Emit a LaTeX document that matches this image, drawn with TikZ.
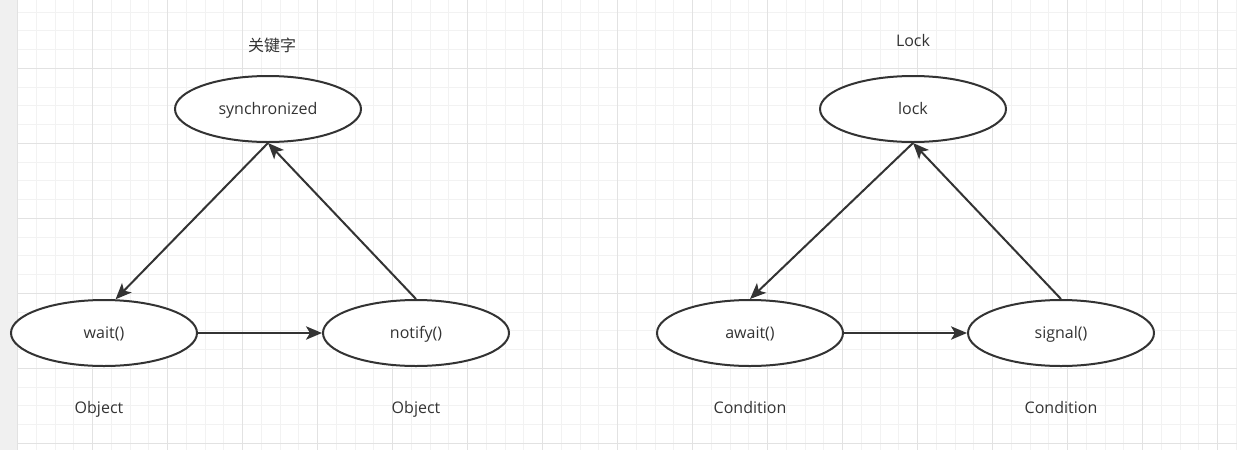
\documentclass[tikz,border=0pt]{standalone}
\usepackage{fontspec}
\setmainfont{Open Sans}
\newfontfamily\cjkfont{Noto Sans CJK SC}
\usetikzlibrary{shapes.geometric, arrows.meta}
\definecolor{strokecolor}{RGB}{51,51,51}
\definecolor{minorgrid}{RGB}{242,242,242}
\definecolor{majorgrid}{RGB}{226,226,226}
\definecolor{stripcolor}{RGB}{240,240,240}

\begin{document}
\begin{tikzpicture}[
    x={(0.75pt,0)}, y={(0,-0.75pt)},
    state/.style={draw=strokecolor, ellipse, line width=1.5pt, fill=white, minimum width=139.5pt, minimum height=49.5pt, inner sep=0pt, text height=10.5pt, text depth=2pt, font=\fontsize{12pt}{14pt}\selectfont, text=strokecolor},
    caption/.style={font=\fontsize{12pt}{14pt}\selectfont, text=strokecolor, inner sep=0pt, text height=10.5pt, text depth=2pt},
    arrow/.style={-{Stealth[length=12pt, width=10pt, inset=3pt]}, line width=1.5pt, strokecolor}
]
    \useasboundingbox (0,0) rectangle (1237,450);

    % Grid
    \fill[white] (0,0) rectangle (1237,450);
    \fill[stripcolor] (0,0) rectangle (17.5,450);
    \foreach \gx in {17.7,36.45,...,1237}
        \draw[minorgrid, line width=0.75pt] (\gx,0) -- (\gx,450);
    \foreach \gy in {12.05,30.8,...,450}
        \draw[minorgrid, line width=0.75pt] (17.7,\gy) -- (1237,\gy);
    \foreach \gx in {17.7,92.7,...,1237}
        \draw[majorgrid, line width=0.75pt] (\gx,0) -- (\gx,450);
    \foreach \gy in {68.3,143.3,...,450}
        \draw[majorgrid, line width=0.75pt] (17.7,\gy) -- (1237,\gy);

    % States, left
    \node[state] (sync) at (268,109) {synchronized};
    \node[state] (wait) at (104,333) {wait()};
    \node[state] (notify) at (416,333) {notify()};

    % States, right
    \node[state] (lock) at (913,109) {lock};
    \node[state] (await) at (750,333) {await()};
    \node[state] (signal) at (1061,333) {signal()};

    % Captions
    \node[caption, font=\cjkfont\fontsize{12pt}{14pt}\selectfont] (keyword) at (272,46) {关键字};
    \node[caption] (locklabel) at (913,41) {Lock};
    \node[caption] (waitobj) at (99,408) {Object};
    \node[caption] (notifyobj) at (416,408) {Object};
    \node[caption] (awaitcond) at (750,408) {Condition};
    \node[caption] (signalcond) at (1061,408) {Condition};

    % Arrows
    \draw[arrow] (sync.south) -- (wait.71);
    \draw[arrow] (wait.east) -- (notify.west);
    \draw[arrow] (notify.north) -- (sync.south);
    \draw[arrow] (lock.south) -- (await.north);
    \draw[arrow] (await.east) -- (signal.west);
    \draw[arrow] (signal.north) -- (lock.south);
\end{tikzpicture}
\end{document}
